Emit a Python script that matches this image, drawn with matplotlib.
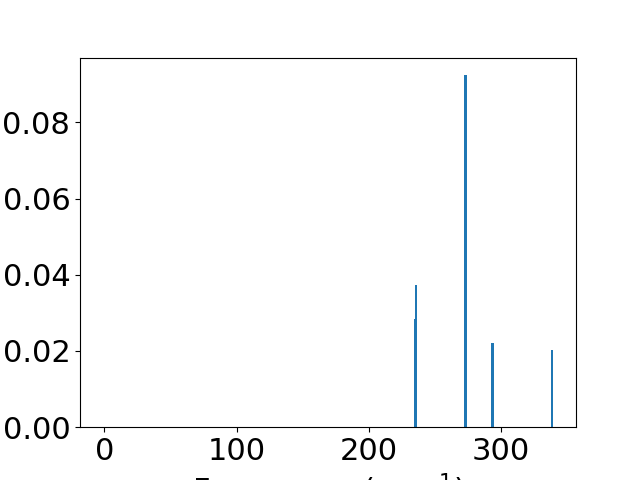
import numpy as np
import matplotlib
matplotlib.use('Agg')
import matplotlib.pyplot as plt

# frequencies (cm^-1) and intensities
freqs = [235.0, 235.8, 273.2, 293.6, 338.6]
intensity = [0.0283, 0.0372, 0.0924, 0.0221, 0.0202]

plt.rcParams['font.size'] = 22

fig, ax = plt.subplots(figsize=(6.4, 4.8), dpi=100)
ax.bar(freqs, intensity, width=2.0, color='#1f77b4')

ax.set_xlim(-18.4, 356.8)
ax.set_ylim(0, 0.097)
ax.set_xticks([0, 100, 200, 300])
ax.set_yticks([0.00, 0.02, 0.04, 0.06, 0.08])
ax.set_xlabel('Frequency (cm$^{-1}$)')

fig.savefig('out.png', dpi=100)
